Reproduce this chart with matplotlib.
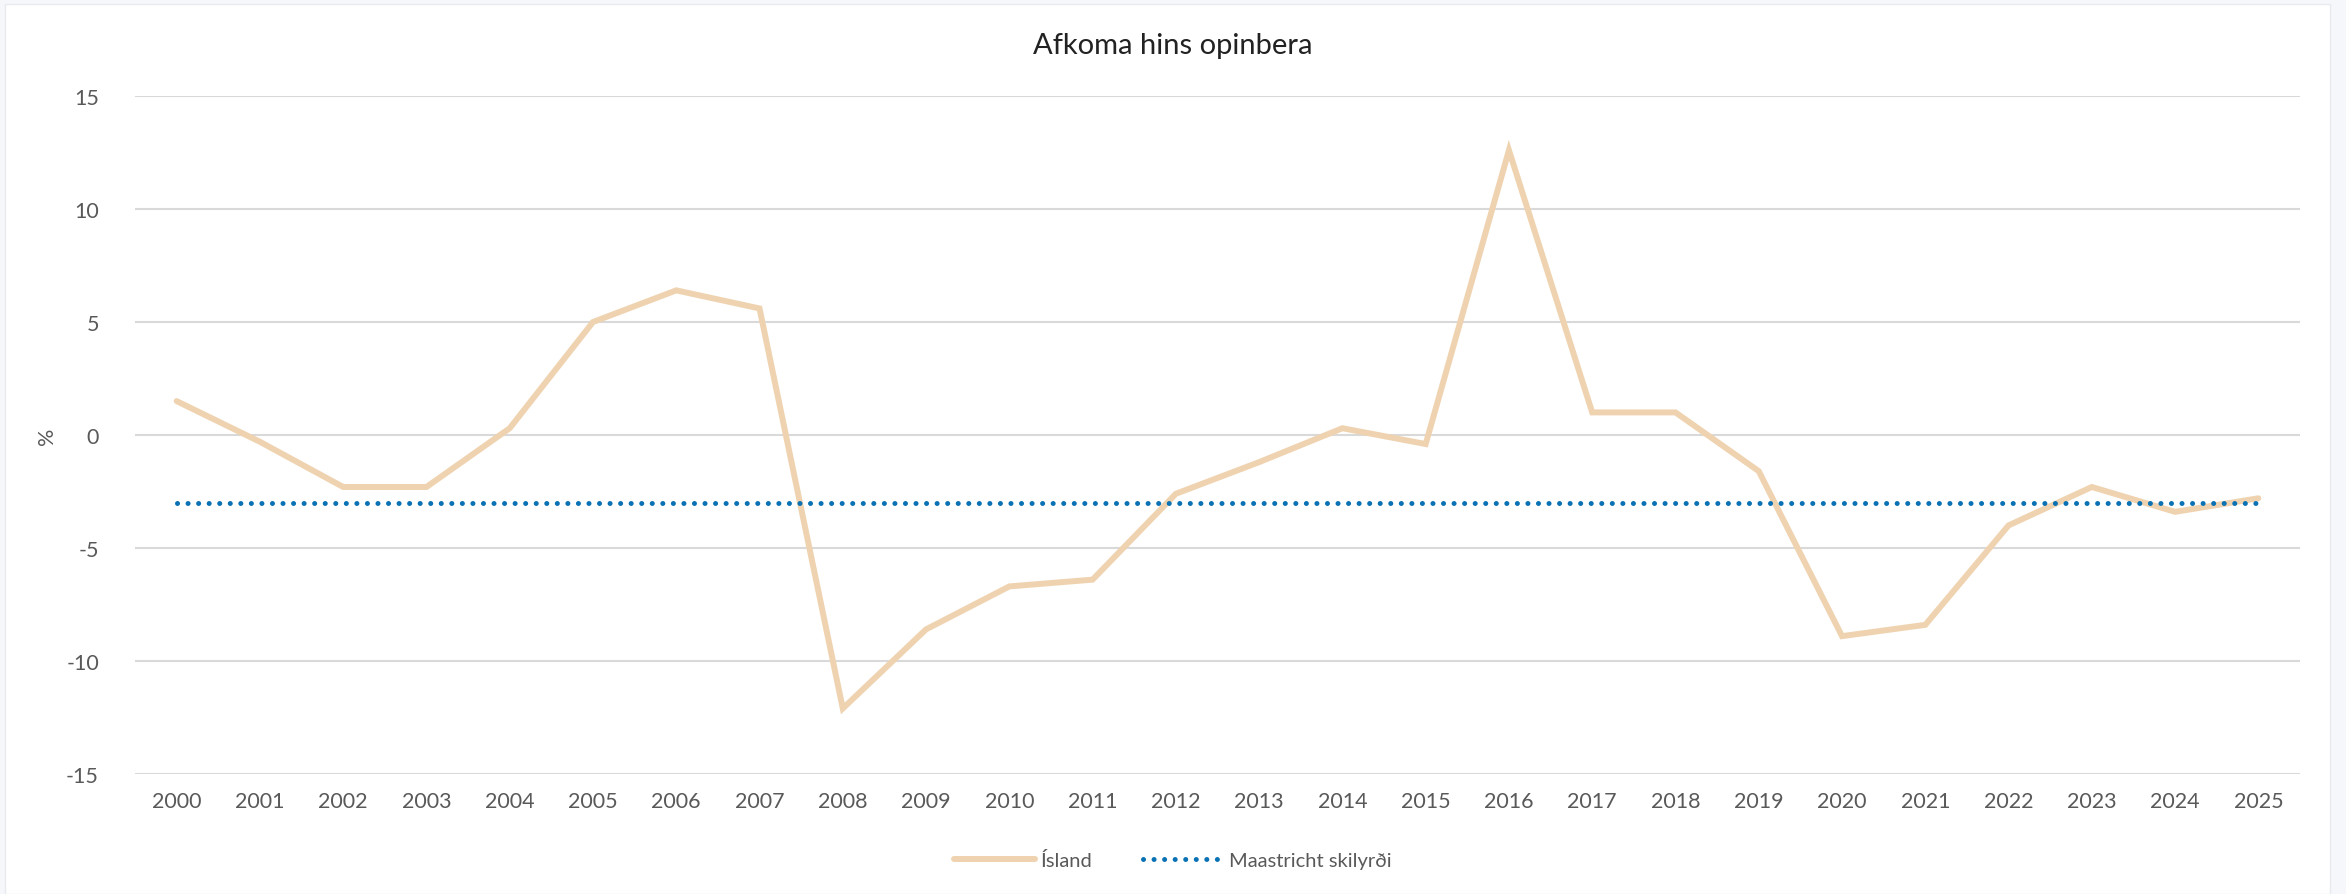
import numpy as np
import matplotlib.pyplot as plt
from matplotlib.patches import Rectangle

# Afkoma hins opinbera (% af VLF)
years = list(range(2000, 2026))
island = [1.5, -0.3, -2.3, -2.3, 0.3, 5.0, 6.4, 5.6, -12.1, -8.6, -6.7, -6.4, -2.6,
          -1.2, 0.3, -0.4, 12.6, 1.0, 1.0, -1.6, -8.9, -8.4, -4.0, -2.3, -3.4, -2.8]
maastricht = [-3.0] * len(years)
yticks = [-15, -10, -5, 0, 5, 10, 15]

plt.rcParams['font.family'] = ['Lato', 'DejaVu Sans']
plt.rcParams['axes.unicode_minus'] = False

fig = plt.figure(figsize=(23.46, 8.95), dpi=100)
fig.patch.set_facecolor('#f5f7fa')
# white chart panel
fig.patches.append(Rectangle((5/2346, 0), 2325/2346, 1 - 5/895, transform=fig.transFigure,
                             facecolor='white', edgecolor='#e8eaee', linewidth=1, zorder=-10))

ax = fig.add_axes([135/2346, 1 - 775/895, 2165/2346, (775 - 97)/895])
ax.set_facecolor('none')
ax.set_zorder(1)

ax.plot(years, island, color='#efd3b0', linewidth=4.3, solid_capstyle='round',
        solid_joinstyle='miter', label='Ísland', zorder=3)
ax.plot(years, maastricht, color='#0a72b4', linewidth=3.6, linestyle=(0, (0.01, 2.1)),
        dash_capstyle='round', label='Maastricht skilyrði', zorder=4)

ax.set_xlim(1999.5, 2025.5)
ax.set_ylim(-15, 15)
ax.set_yticks(yticks)
ax.set_xticks(years)
ax.grid(axis='y', color='#d9d9d9', linewidth=1.5)
ax.set_axisbelow(True)
for s in ax.spines.values():
    s.set_visible(False)
ax.tick_params(axis='both', length=0, labelsize=15.5, labelcolor='#595959')
ax.tick_params(axis='y', pad=26)
ax.tick_params(axis='x', pad=12)
ax.set_ylabel('%', fontsize=15.5, color='#595959')
ax.yaxis.set_label_coords(-0.036, 0.5)

fig.text(0.5, 1 - 46/895, 'Afkoma hins opinbera', ha='center', va='center',
         fontsize=21, color='#222222')

leg = fig.legend(loc='center', bbox_to_anchor=(0.5, 1 - 861/895), ncol=2, frameon=False,
                 fontsize=14.5, handlelength=4, columnspacing=2.5, handletextpad=0.3)
for t in leg.get_texts():
    t.set_color('#595959')

fig.savefig('out.png', dpi=100, facecolor=fig.get_facecolor())
